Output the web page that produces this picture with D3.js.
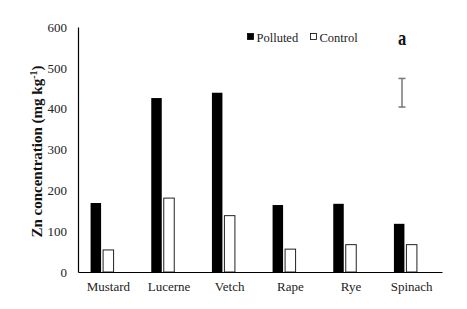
<!DOCTYPE html>
<html>
<head>
<meta charset="utf-8">
<script src="https://cdn.jsdelivr.net/npm/d3@7"></script>
<style>
  body { margin: 0; background: #fff; }
  svg text { font-family: "Liberation Serif", "Times New Roman", serif; }
</style>
</head>
<body>
<svg id="chart" width="467" height="309"></svg>
<script>
'use strict';

// data
const categories = ["Mustard", "Lucerne", "Vetch", "Rape", "Rye", "Spinach"];
const polluted = [169, 426, 439, 164, 167, 118];
const control = [54, 181, 138, 56, 67, 67];
const seriesNames = ["Polluted", "Control"];
const yTicks = [0, 100, 200, 300, 400, 500, 600];
const errBar = [404, 474]; // the lone error bar near the "a" label

const serif = "'Liberation Serif', 'Times New Roman', serif";

let svg = d3.select("#chart"),
	margin = { top: 27, right: 25, bottom: 37, left: 78 },
	width = +svg.attr("width") - margin.left - margin.right,
	height = +svg.attr("height") - margin.top - margin.bottom,
	g = svg.append("g").attr("transform", "translate(" + margin.left + "," + margin.top + ")");

let x0 = d3.scaleBand()
	.domain(categories)
	.range([0, width])
	.padding(0);

// third empty slot, like the original spreadsheet layout
let groupW = x0.bandwidth() * 0.585;
let x1 = d3.scaleBand()
	.domain(["Polluted", "Control", "spare"])
	.range([(x0.bandwidth() - groupW) / 2, (x0.bandwidth() + groupW) / 2])
	.paddingInner(0.16);

let y = d3.scaleLinear()
	.domain([0, 600])
	.range([height, 0]);

let data = categories.map(function (c, i) {
	return { name: c, values: [
		{ key: "Polluted", value: polluted[i] },
		{ key: "Control", value: control[i] }
	] };
});

// y axis
let yAxis = g.append("g")
	.call(d3.axisLeft(y).tickValues(yTicks).tickSize(0).tickPadding(11));
yAxis.attr("font-family", null);
yAxis.select(".domain").attr("stroke", "#000").attr("stroke-width", 1.2);
yAxis.selectAll("text")
	.style("font-family", serif)
	.style("font-size", "13px")
	.attr("fill", "#222");

// bars
let groups = g.selectAll(".grp")
	.data(data)
	.enter().append("g")
	.attr("class", "grp")
	.attr("transform", function (d) { return "translate(" + x0(d.name) + ",0)"; });

groups.selectAll("rect")
	.data(function (d) { return d.values; })
	.enter().append("rect")
	.attr("x", function (d) { return x1(d.key); })
	.attr("y", function (d) { return y(d.value); })
	.attr("width", x1.bandwidth())
	.attr("height", function (d) { return height - y(d.value); })
	.attr("fill", function (d) { return d.key === "Polluted" ? "#000" : "#fff"; })
	.attr("stroke", function (d) { return d.key === "Polluted" ? "none" : "#222"; })
	.attr("stroke-width", 1);

// x axis
let xAxis = g.append("g")
	.attr("transform", "translate(0," + height + ")")
	.call(d3.axisBottom(x0).tickSize(0).tickPadding(10));
xAxis.attr("font-family", null);
xAxis.select(".domain").attr("stroke", "#000").attr("stroke-width", 1.2);
xAxis.selectAll("text")
	.style("font-family", serif)
	.style("font-size", "13px")
	.attr("fill", "#222");

// y label
svg.append("text")
	.attr("transform", "translate(42," + (margin.top + height / 2 + 2) + ") rotate(-90)")
	.attr("text-anchor", "middle")
	.style("font-family", serif)
	.style("font-weight", "bold")
	.style("font-size", "15px")
	.attr("fill", "#111")
	.html('Zn concentration (mg kg<tspan dy="-5" font-size="10">-1</tspan><tspan dy="5">)</tspan>');

// legend
let legend = g.append("g").attr("transform", "translate(169,8)");
seriesNames.forEach(function (s, i) {
	let lg = legend.append("g").attr("transform", "translate(" + (i * 63) + ",0)");
	lg.append("rect")
		.attr("x", 0.5).attr("y", -1.5)
		.attr("width", 6).attr("height", 6)
		.attr("fill", s === "Polluted" ? "#000" : "#fff")
		.attr("stroke", "#000")
		.attr("stroke-width", 0.8);
	lg.append("text")
		.attr("x", 9.5).attr("y", 6.5)
		.style("font-family", serif)
		.style("font-size", "12.5px")
		.attr("fill", "#222")
		.text(s);
});

// panel letter
svg.append("text")
	.attr("transform", "translate(398,45) scale(0.75,1)")
	.style("font-family", serif)
	.style("font-weight", "bold")
	.style("font-size", "22px")
	.attr("fill", "#111")
	.text("a");

// error bar
let ex = 402 - margin.left;
let eb = g.append("g").attr("stroke", "#777").attr("stroke-width", 1.5);
eb.append("line").attr("x1", ex).attr("x2", ex).attr("y1", y(errBar[0])).attr("y2", y(errBar[1]));
eb.append("line").attr("x1", ex - 3.5).attr("x2", ex + 3.5).attr("y1", y(errBar[0])).attr("y2", y(errBar[0]));
eb.append("line").attr("x1", ex - 3.5).attr("x2", ex + 3.5).attr("y1", y(errBar[1])).attr("y2", y(errBar[1]));
</script>
</body>
</html>
